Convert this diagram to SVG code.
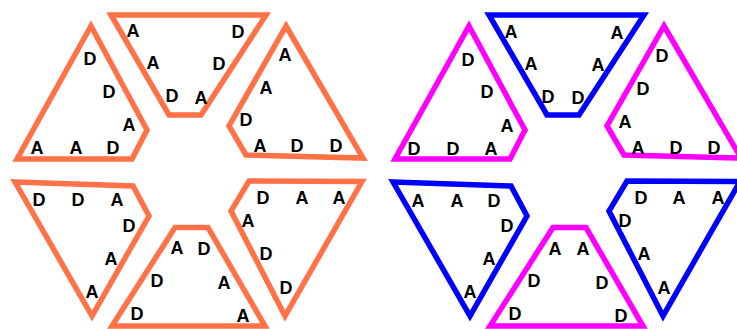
<svg xmlns="http://www.w3.org/2000/svg" width="737" height="329" viewBox="0 0 737 329">
<style>
.p{fill:none;stroke-width:5.5;stroke-linejoin:miter;stroke-miterlimit:10}
.o{stroke:#FF7247}
.b{stroke:#0000FF}
.m{stroke:#FF00FF}
text{font-family:"Liberation Sans",Arial,sans-serif;font-size:18px;font-weight:bold;text-anchor:middle;fill:#000}
</style>
<rect width="737" height="329" fill="#fff"/>
<g id="left-hex">
<g id="L-topleft">
<polygon class="p o" points="91,26 147,130 132,159 17,159"/>
<text x="90" y="64.5">D</text><text x="109" y="97.5">D</text><text x="129" y="130.5">A</text>
<text x="37" y="153.5">A</text><text x="76" y="153.5">A</text><text x="113" y="153.5">D</text>
</g>
<g id="L-top">
<polygon class="p o" points="111,15 266,15 201,115 169,115"/>
<text x="133" y="36.5">A</text><text x="153" y="68.5">A</text><text x="172" y="101.5">D</text>
<text x="238" y="37.5">D</text><text x="219" y="69.5">D</text><text x="201" y="103.5">A</text>
</g>
<g id="L-topright">
<polygon class="p o" points="286,26 363,158 246,155 229,126"/>
<text x="285" y="60.5">A</text><text x="266" y="93.5">A</text><text x="246" y="125.5">D</text>
<text x="260" y="151.5">A</text><text x="297" y="151.5">D</text><text x="336" y="151.5">D</text>
</g>
<g id="L-bottomleft">
<polygon class="p o" points="15,182 133,186 149,216 92,316"/>
<text x="39" y="205.5">D</text><text x="78" y="205.5">D</text><text x="117" y="205.5">A</text>
<text x="129" y="231.5">D</text><text x="111" y="264.5">A</text><text x="92" y="297.5">A</text>
</g>
<g id="L-bottom">
<polygon class="p o" points="175,227.5 208,227.5 265,326 112,326"/>
<text x="177" y="253.5">A</text><text x="157" y="286.5">D</text><text x="137" y="319.5">D</text>
<text x="204" y="254.5">D</text><text x="224" y="288.5">A</text><text x="243" y="321.5">A</text>
</g>
<g id="L-bottomright">
<polygon class="p o" points="249,181 362,181.5 285,316 231,211"/>
<text x="263" y="203.5">D</text><text x="302" y="203.5">A</text><text x="339" y="203.5">A</text>
<text x="248" y="226.5">A</text><text x="266" y="259.5">D</text><text x="286" y="293.5">D</text>
</g>
</g>
<g id="right-hex">
<g id="R-topleft">
<polygon class="p m" transform="translate(378,0)" points="91,26 147,130 132,159 17,159"/>
<text x="468" y="65.5">D</text><text x="487" y="97.5">D</text><text x="507" y="131.5">A</text>
<text x="414" y="154.5">D</text><text x="453" y="154.5">D</text><text x="491" y="154.5">A</text>
</g>
<g id="R-top">
<polygon class="p b" transform="translate(378,0)" points="111,15 266,15 201,115 169,115"/>
<text x="511" y="37.5">A</text><text x="531" y="69.5">A</text><text x="548" y="102.5">D</text>
<text x="617" y="38.5">A</text><text x="598" y="70.5">A</text><text x="578" y="103.5">D</text>
</g>
<g id="R-topright">
<polygon class="p m" transform="translate(378,0)" points="286,26 363,158 246,155 229,126"/>
<text x="662" y="61.5">D</text><text x="643" y="94.5">D</text><text x="625" y="127.5">A</text>
<text x="638" y="153.5">A</text><text x="676" y="153.5">D</text><text x="714" y="153.5">D</text>
</g>
<g id="R-bottomleft">
<polygon class="p b" transform="translate(378,0)" points="15,182 133,186 149,216 92,316"/>
<text x="418" y="206.5">A</text><text x="457" y="206.5">A</text><text x="494" y="206.5">D</text>
<text x="507" y="231.5">D</text><text x="489" y="264.5">A</text><text x="470" y="297.5">A</text>
</g>
<g id="R-bottom">
<polygon class="p m" transform="translate(378,0)" points="175,227.5 208,227.5 265,326 112,326"/>
<text x="555" y="254.5">A</text><text x="534" y="286.5">D</text><text x="515" y="319.5">D</text>
<text x="583" y="255">A</text><text x="602" y="288.5">D</text><text x="621" y="321.5">D</text>
</g>
<g id="R-bottomright">
<polygon class="p b" transform="translate(378,0)" points="249,181 362,181.5 285,316 231,211"/>
<text x="641" y="203.5">D</text><text x="679" y="203.5">A</text><text x="718" y="203.5">A</text>
<text x="625" y="226.5">D</text><text x="644" y="259.5">A</text><text x="664" y="293.5">A</text>
</g>
</g>
</svg>
